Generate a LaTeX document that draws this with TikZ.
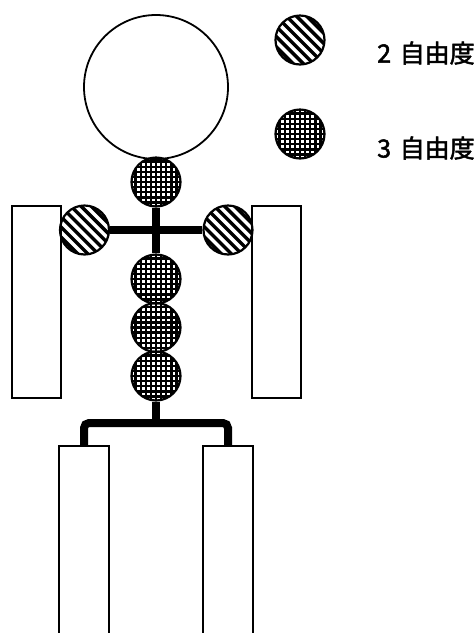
\documentclass[tikz,border=0pt]{standalone}
\usepackage{fontspec}
\newfontfamily\cjk{Noto Sans CJK JP}[FakeBold=2]
\usetikzlibrary{calc}
\tikzset{
  ln/.style={line width=1.8pt},
  joint/.style={circle, draw, line width=2.2pt, minimum size=49pt, inner sep=0pt},
  dof2/.style={joint, path picture={
      \begin{scope}[shift={(path picture bounding box.center)}]
        \foreach \i in {-8,...,8} \draw[line width=3.4pt] (\i*10.2-40,-40) -- (\i*10.2+40,40);
      \end{scope}}},
  dof3/.style={joint, path picture={
      \begin{scope}[shift={(path picture bounding box.center)}]
        \foreach \i in {-6,...,6} {
          \draw[line width=2.4pt] (\i*5.1,-30) -- (\i*5.1,30);
          \draw[line width=2.4pt] (-30,\i*5.1) -- (30,\i*5.1);}
      \end{scope}}},
  limb/.style={draw, ln, rectangle, inner sep=0pt},
  bar/.style={line width=8pt},
  lbl/.style={anchor=west, font=\cjk\fontsize{25pt}{29pt}\selectfont, inner sep=0pt},
}
\begin{document}
\begin{tikzpicture}[x=1pt, y=-1pt]
\clip (0,0) rectangle (474,633);
\fill[white] (0,0) rectangle (474,633);
\coordinate (hip) at (156,423);
\node[limb, minimum width=49pt, minimum height=192pt] (armL) at (36.5,302) {};
\node[limb, minimum width=49pt, minimum height=192pt] (armR) at (276.5,302) {};
\node[limb, minimum width=50pt, minimum height=210pt] (legL) at (84,551) {};
\node[limb, minimum width=50pt, minimum height=210pt] (legR) at (228,551) {};
\node[circle, draw, ln, minimum size=144pt, inner sep=0pt] (head) at (156,87) {};
\node[dof3] (neck) at (156,182) {};
\node[dof2] (shL) at (84.5,230) {};
\node[dof2] (shR) at (228,230) {};
\node[dof3] (sp1) at (156,279) {};
\node[dof3] (sp2) at (156,327.5) {};
\node[dof3] (sp3) at (156,376) {};
\draw[bar] (neck.south) -- (sp1.north);
\draw[bar] (shL.east) -- (shR.west);
\draw[bar] (sp3.south) -- (hip);
\draw[bar, rounded corners=5pt] (legL.north) |- (hip) -| (legR.north);
% legend
\node[dof2] (leg2) at (300,40) {};
\node[dof3] (leg3) at (300,134) {};
\node[lbl] (t2) at (377,53) {2\hspace{3pt} 自由度};
\node[lbl] (t3) at (377,148) {3\hspace{3pt} 自由度};
\end{tikzpicture}
\end{document}
